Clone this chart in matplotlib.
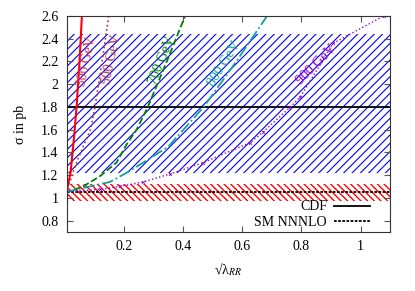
import matplotlib
matplotlib.use("Agg")
import matplotlib.pyplot as plt

plt.rcParams['font.family'] = ['Liberation Serif', 'DejaVu Serif']
plt.rcParams['mathtext.fontset'] = 'stix'

x300 = [0.0, 0.011, 0.02, 0.032, 0.04, 0.05, 0.058]
y300 = [1.05, 1.11, 1.23, 1.55, 1.80, 2.20, 2.60]
x500 = [0.0, 0.017, 0.027, 0.044, 0.068, 0.087, 0.102, 0.125, 0.149]
y500 = [1.05, 1.135, 1.22, 1.337, 1.486, 1.60, 1.80, 2.18, 2.60]
x700 = [0.0, 0.02, 0.062, 0.119, 0.175, 0.209, 0.243, 0.281, 0.345, 0.407]
y700 = [1.05, 1.06, 1.10, 1.19, 1.31, 1.47, 1.60, 1.80, 2.20, 2.60]
x800 = [0.0, 0.085, 0.153, 0.209, 0.265, 0.35, 0.47, 0.58, 0.684]
y800 = [1.05, 1.10, 1.14, 1.22, 1.31, 1.45, 1.80, 2.20, 2.60]
x900 = [0.0, 0.119, 0.186, 0.265, 0.356, 0.468, 0.627, 0.671, 0.763, 0.797, 0.908, 1.078]
y900 = [1.05, 1.075, 1.10, 1.14, 1.21, 1.31, 1.486, 1.58, 1.80, 1.89, 2.36, 2.60]

cdf_val, cdf_lo, cdf_hi = 1.8, 1.22, 2.44
sm_val, sm_lo, sm_hi = 1.05, 0.975, 1.12

fig = plt.figure(figsize=(4.15, 2.91), dpi=100)
ax = fig.add_axes([0.161, 0.203, 0.779, 0.742])

xs = [0.0, 1.1]
with plt.rc_context({'hatch.linewidth': 0.8}):
    ax.fill_between(xs, cdf_lo, cdf_hi, facecolor='none', edgecolor='#0000ff',
                    hatch='////', linewidth=0)
with plt.rc_context({'hatch.linewidth': 1.0}):
    ax.fill_between(xs, sm_lo, sm_hi, facecolor='none', edgecolor='#ff0000',
                    hatch='\\' * 5, linewidth=0)

ax.axhline(cdf_val, color='black', lw=1.3, label='CDF')
ax.axhline(sm_val, color='black', lw=1.3, ls=(0, (1.5, 0.8)), label='SM NNNLO')

ax.plot(x300, y300, color='#ff0000', lw=1.5)
ax.plot(x500, y500, color='#b03040', lw=1.2, ls=':')
ax.plot(x700, y700, color='#008000', lw=1.3, ls='--')
ax.plot(x800, y800, color='#10a0a0', lw=1.3, ls='-.')
ax.plot(x900, y900, color='#9400d3', lw=1.0, ls=':', marker='x', ms=2, mew=0.6)

lab = dict(fontsize=10, ha='center', va='center')
ax.text(0.073, 2.20, '300 GeV', rotation=78, color='#d03050', **lab)
ax.text(0.158, 2.22, '500 GeV', rotation=78, color='#b03050', **lab)
ax.text(0.329, 2.21, '700 GeV', rotation=68, color='#008000', **lab)
ax.text(0.539, 2.18, '800 GeV', rotation=58, color='#10a0a0', **lab)
ax.text(0.851, 2.17, '900 GeV', rotation=45, color='#9400d3', **lab)

ax.set_xlim(0.007, 1.1)
ax.set_ylim(0.7, 2.6)
ax.set_xticks([0.2, 0.4, 0.6, 0.8, 1.0])
ax.set_xticklabels(['0.2', '0.4', '0.6', '0.8', '1'])
ax.set_yticks([0.8, 1.0, 1.2, 1.4, 1.6, 1.8, 2.0, 2.2, 2.4, 2.6])
ax.set_yticklabels(['0.8', '1', '1.2', '1.4', '1.6', '1.8', '2', '2.2', '2.4', '2.6'])
ax.tick_params(direction='in', top=True, right=True, labelsize=10,
               color='#555555', length=4, pad=6)
for s in ax.spines.values():
    s.set_color('#333333')

ax.set_xlabel('√λ$_{RR}$', fontsize=10, labelpad=6)
ax.set_ylabel('σ in pb', fontsize=10, labelpad=10)

leg = ax.legend(loc='lower right', frameon=False, markerfirst=False,
                fontsize=10, handlelength=2.6, handletextpad=0.5,
                bbox_to_anchor=(0.955, -0.01), borderaxespad=0.0,
                labelspacing=0.15)

fig.savefig('out.png', dpi=100)
